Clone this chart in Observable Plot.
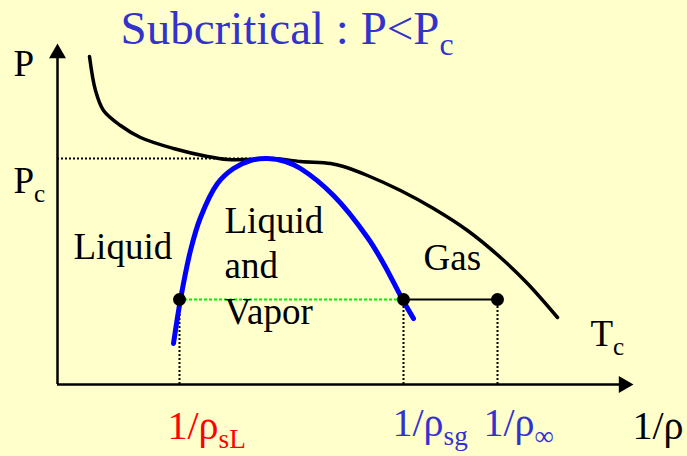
<!DOCTYPE html>
<html>
<head>
<meta charset="utf-8">
<script src="https://cdn.jsdelivr.net/npm/d3@7"></script>
<script src="https://cdn.jsdelivr.net/npm/@observablehq/plot@0.6"></script>
<style>
  html, body { margin: 0; padding: 0; background: #FFFFCC; overflow: hidden; }
  #chart { width: 687px; height: 456px; }
</style>
</head>
<body>
<div id="chart"></div>
<script>
// ---- data (schematic units: x = 1/rho, y = P) ----
const isothermV = [0.32, 0.38, 0.46, 0.63, 0.83, 1.16, 1.50, 1.70, 1.93, 2.16, 2.43, 2.73, 2.86, 3.10, 3.43, 3.76, 4.10, 4.43, 4.70, 5.00];
const isothermP = [3.28, 2.94, 2.74, 2.59, 2.47, 2.36, 2.28, 2.25, 2.25, 2.26, 2.23, 2.21, 2.18, 2.09, 1.94, 1.76, 1.54, 1.27, 1.01, 0.67];

const domeV = [1.16, 1.23, 1.33, 1.43, 1.60, 1.76, 1.93, 2.10, 2.28, 2.43, 2.76, 3.10, 3.26, 3.45, 3.56];
const domeP = [0.41, 0.85, 1.34, 1.67, 2.01, 2.16, 2.24, 2.26, 2.23, 2.16, 1.89, 1.47, 1.21, 0.85, 0.66];

const Pc = 2.26;          // critical pressure
const PcLineEnd = 2.06;   // end of the Pc guide line
const Psat = 0.85;        // saturation pressure of the subcritical state
const vL = 1.22, vG = 3.46, vInf = 4.40;
const xAxisMax = 5.76, yAxisMax = 3.41;

const titleText = ["Subcritical : P<P_c"];
const axisLabels = ["P", "P_c", "T_c"];
const axisLabelV = [-0.44, -0.44, 5.33];
const axisLabelP = [3.09, 1.92, 0.39];
const regionLabels = ["Liquid", "Liquid\nand\nVapor", "Gas"];
const regionV = [0.16, 1.67, 3.66];
const regionP = [1.26, 0.61, 1.15];
const volLabels = ["1/ρ_sL", "1/ρ_sg", "1/ρ_∞", "1/ρ"];
const volLabelV = [1.10, 3.35, 4.26, 5.75];
const volLabelP = [-0.54, -0.51, -0.51, -0.54];
const volColors = ["#FF0000", "#3333CC", "#3333CC", "#000000"];

const isotherm = isothermV.map((v, i) => ({v, P: isothermP[i]}));
const dome = domeV.map((v, i) => ({v, P: domeP[i]}));
const font = "'Liberation Serif', 'Times New Roman', serif";

const svg = Plot.plot({
  width: 687,
  height: 456,
  margin: 0,
  x: {domain: [-0.57, 6.30], axis: null},
  y: {domain: [-0.72, 3.84], axis: null},
  style: {background: "#FFFFCC", overflow: "visible", fontFamily: font},
  marks: [
    // axes
    Plot.ruleY([0], {x1: 0, x2: xAxisMax - 0.1, stroke: "black", strokeWidth: 2.5}),
    Plot.ruleX([0], {y1: 0, y2: yAxisMax - 0.1, stroke: "black", strokeWidth: 2.5}),
    Plot.dot([0], {x: xAxisMax, y: 0, symbol: "triangle", r: 6.3, fill: "black", rotate: 90, dx: -9.8}),
    Plot.dot([0], {x: 0, y: yAxisMax, symbol: "triangle", r: 6.3, fill: "black", dy: 9.8}),
    // guide lines
    Plot.ruleY([Pc], {x1: 0, x2: PcLineEnd, stroke: "black", strokeWidth: 2, strokeDasharray: "2,2"}),
    Plot.ruleX([vL, vG, vInf], {y1: 0, y2: Psat, stroke: "black", strokeWidth: 2, strokeDasharray: "2,2"}),
    Plot.ruleY([Psat], {x1: vL, x2: vG, stroke: "#00EE00", strokeWidth: 2.2, strokeDasharray: "3,2"}),
    Plot.ruleY([Psat], {x1: vG, x2: vInf, stroke: "black", strokeWidth: 2}),
    // curves
    Plot.line(isotherm, {x: "v", y: "P", stroke: "black", strokeWidth: 3.5, curve: "catmull-rom"}),
    Plot.line(dome, {x: "v", y: "P", stroke: "#0000FF", strokeWidth: 5, curve: "catmull-rom"}),
    Plot.dot([vL, vG, vInf], {x: d => d, y: Psat, r: 6.5, fill: "black"}),
    // text
    Plot.text(titleText, {x: 0.63, y: 3.41, text: d => d, textAnchor: "start", lineAnchor: "bottom", fontSize: 47, fill: "#3333CC", fontFamily: font}),
    Plot.text(axisLabels, {x: (d, i) => axisLabelV[i], y: (d, i) => axisLabelP[i], text: d => d, textAnchor: "start", lineAnchor: "bottom", fontSize: 37, fill: "black", fontFamily: font}),
    Plot.text(regionLabels, {x: (d, i) => regionV[i], y: (d, i) => regionP[i], text: d => d, textAnchor: "start", lineAnchor: "bottom", lineHeight: 1.22, fontSize: 37, fill: "black", fontFamily: font}),
    Plot.text(volLabels, {x: (d, i) => volLabelV[i], y: (d, i) => volLabelP[i], text: d => d, textAnchor: "start", lineAnchor: "bottom", fontSize: 40, fill: (d, i) => volColors[i], fontFamily: font})
  ]
});

// turn "_x" into subscripts
d3.select(svg).selectAll("text").each(function() {
  const t = d3.select(this);
  if (this.querySelector("tspan")) return;
  const s = this.textContent;
  const k = s.indexOf("_");
  if (k < 0) return;
  t.text(s.slice(0, k));
  t.append("tspan").attr("font-size", "0.68em").attr("dy", "0.36em").text(s.slice(k + 1));
});

document.getElementById("chart").appendChild(svg);
</script>
</body>
</html>
